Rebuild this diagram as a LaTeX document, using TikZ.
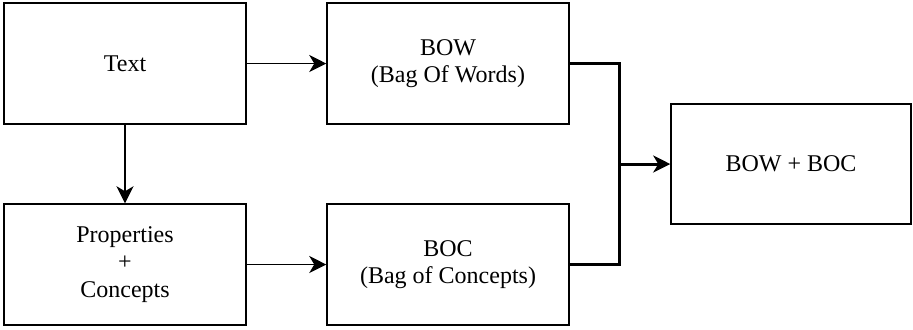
\documentclass[tikz,border=0pt]{standalone}
\usepackage{fontspec}
\setmainfont{Liberation Serif}
\usepackage{tikz}
\usetikzlibrary{arrows.meta}

\begin{document}
\begin{tikzpicture}[x=0.5pt, y=-0.5pt,
  every node/.style={rectangle, draw, line width=0.75pt, align=center, inner sep=0pt,
    font=\fontsize{12}{13.75}\selectfont},
  box/.style={minimum width=121pt, minimum height=60.5pt},
  link/.style={line width=0.85pt, -{Stealth[length=8.5pt, width=8.5pt, inset=2.5pt]}}]
\useasboundingbox (0,0) rectangle (913,329);
\node[box] (text) at (125,63.5) {Text};
\node[box] (bow) at (448,63.5) {BOW\\(Bag Of Words)};
\node[box] (props) at (125,264.5) {Properties\\+\\Concepts};
\node[box] (boc) at (448,264.5) {BOC\\(Bag of Concepts)};
\node[minimum width=120pt, minimum height=60pt] (res) at (791,164) {BOW + BOC};
\coordinate (j) at (619,164);

\draw[link] (text) -- (bow);
\draw[link] (text) -- (props);
\draw[link] (props) -- (boc);
\draw[line width=1.5pt] (bow.east) -| (j) |- (boc.east);
\draw[link, line width=1.5pt] (j) -- (res);
\end{tikzpicture}
\end{document}
